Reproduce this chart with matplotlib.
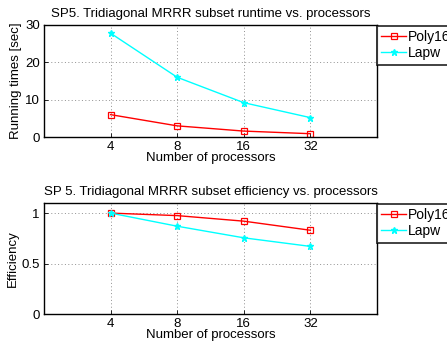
import matplotlib
matplotlib.use("Agg")
import matplotlib.pyplot as plt

procs = ["4", "8", "16", "32"]
time_poly16 = [6.0, 3.0, 1.6, 0.9]
time_lapw = [27.8, 16.0, 9.2, 5.2]
eff_poly16 = [1.0, 0.975, 0.92, 0.83]
eff_lapw = [1.0, 0.87, 0.755, 0.67]

plt.rcParams["font.family"] = ["Liberation Sans", "DejaVu Sans"]
FS = 9.5

fig = plt.figure(figsize=(4.47, 3.47), dpi=100)
x = list(range(1, len(procs) + 1))


def panel(rect, poly, lapw, ylim, yticks, yticklabels, ylabel, title):
    ax = fig.add_axes(rect)
    ax.plot(x, poly, "-s", color="red", lw=1.0, ms=4, mfc="none", mew=0.9, label="Poly16")
    ax.plot(x, lapw, "-*", color="cyan", lw=1.0, ms=4.5, label="Lapw")
    ax.set_xlim(0, 5)
    ax.set_ylim(*ylim)
    ax.set_xticks(x)
    ax.set_xticklabels(procs, fontsize=FS)
    ax.set_yticks(yticks)
    ax.set_yticklabels(yticklabels, fontsize=FS)
    ax.tick_params(direction="in", length=3, width=0.6, pad=3)
    ax.grid(True, linestyle=(0, (1, 2.5)), color="#909090", lw=0.7)
    for s in ax.spines.values():
        s.set_linewidth(1.0)
    ax.set_xlabel("Number of processors", fontsize=FS, labelpad=-1)
    ax.set_ylabel(ylabel, fontsize=FS, labelpad=2)
    ax.set_title(title, fontsize=FS, pad=6)
    leg = ax.legend(loc="upper left", bbox_to_anchor=(1.0, 0.99), fontsize=FS + 0.5,
                    frameon=True, fancybox=False, borderaxespad=0,
                    handlelength=1.8, handletextpad=0.1, borderpad=0.3,
                    labelspacing=0.15)
    leg.get_frame().set_edgecolor("black")
    leg.get_frame().set_linewidth(1.3)
    return ax


panel([0.0984, 0.605, 0.745, 0.323], time_poly16, time_lapw, (0, 30),
      [0, 10, 20, 30], ["0", "10", "20", "30"], "Running times [sec]",
      "SP5. Tridiagonal MRRR subset runtime vs. processors")
panel([0.0984, 0.095, 0.745, 0.32], eff_poly16, eff_lapw, (0, 1.1),
      [0, 0.5, 1], ["0", "0.5", "1"], "Efficiency",
      "SP 5. Tridiagonal MRRR subset efficiency vs. processors")

fig.savefig("out.png", dpi=100)
